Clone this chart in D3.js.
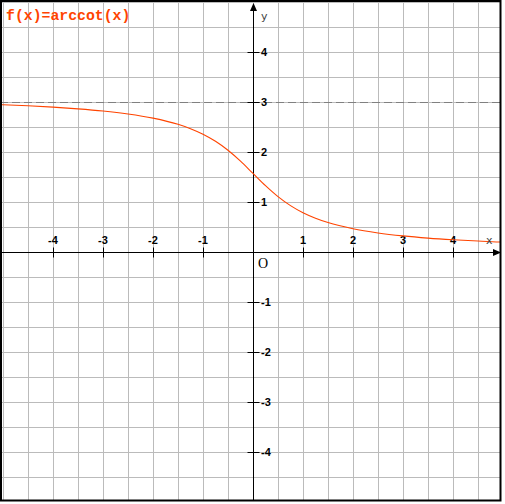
<!DOCTYPE html>
<html><head><meta charset="utf-8">
<script src="https://cdn.jsdelivr.net/npm/d3@7"></script>
<style>html,body{margin:0;padding:0;background:#fff;}svg{display:block;}</style>
</head><body>
<script>
const title = "f(x)=arccot(x)";
const xTicks = [-4,-3,-2,-1,1,2,3,4];
const yTicks = [-4,-3,-2,-1,1,2,3,4];
const asymptote = [3];
const xs = [-5.1,-5,-4.5,-4,-3.5,-3,-2.5,-2,-1.5,-1.25,-1,-0.75,-0.5,-0.25,0,0.25,0.5,0.75,1,1.25,1.5,2,2.5,3,3.5,4,4.5,5,5.1];
const ys = [2.947,2.944,2.924,2.897,2.863,2.820,2.761,2.678,2.554,2.467,2.356,2.214,2.034,1.816,1.571,1.326,1.107,0.927,0.785,0.675,0.588,0.464,0.381,0.322,0.278,0.245,0.219,0.197,0.194];

const W=505,H=504;
const svg=d3.select("body").append("svg").attr("width",W).attr("height",H);
const x=d3.scaleLinear().domain([-5,5]).range([3,503]);
const y=d3.scaleLinear().domain([-5,5]).range([502,2]);

svg.append("clipPath").attr("id","clip").append("rect").attr("x",1).attr("y",1).attr("width",499).attr("height",499);
const g=svg.append("g").attr("clip-path","url(#clip)");

const gridVals=d3.range(-10,11).map(d=>d/2);
g.selectAll("line.gx").data(gridVals).join("line")
 .attr("x1",d=>Math.round(x(d))+0.5).attr("x2",d=>Math.round(x(d))+0.5).attr("y1",0).attr("y2",H)
 .attr("stroke","#bbbbbb").attr("stroke-width",1);
g.selectAll("line.gy").data(gridVals).join("line")
 .attr("y1",d=>Math.round(y(d))+0.5).attr("y2",d=>Math.round(y(d))+0.5).attr("x1",0).attr("x2",W)
 .attr("stroke","#bbbbbb").attr("stroke-width",1);

g.selectAll("line.asy").data(asymptote).join("line")
 .attr("x1",0).attr("x2",W).attr("y1",d=>Math.round(y(d))+0.5).attr("y2",d=>Math.round(y(d))+0.5)
 .attr("stroke","#808080").attr("stroke-width",1).attr("stroke-dasharray","8,4");

const ax=Math.round(x(0))+0.5, ay=Math.round(y(0))+0.5;
g.append("line").attr("x1",0).attr("x2",496).attr("y1",ay).attr("y2",ay).attr("stroke","#000");
g.append("line").attr("x1",ax).attr("x2",ax).attr("y1",10).attr("y2",H).attr("stroke","#000");
g.append("path").attr("d",`M501,${ay} L493,${ay-3.5} L493,${ay+3.5} Z`).attr("fill","#000");
g.append("path").attr("d",`M${ax},3 L${ax-3.5},11 L${ax+3.5},11 Z`).attr("fill","#000");

g.selectAll("line.tx").data(xTicks).join("line")
 .attr("x1",d=>Math.round(x(d))+0.5).attr("x2",d=>Math.round(x(d))+0.5).attr("y1",ay-5).attr("y2",ay+5).attr("stroke","#000");
g.selectAll("line.ty").data(yTicks).join("line")
 .attr("y1",d=>Math.round(y(d))+0.5).attr("y2",d=>Math.round(y(d))+0.5).attr("x1",ax-6).attr("x2",ax+6).attr("stroke","#000");

const ff="Liberation Sans, Arial, sans-serif";
g.selectAll("text.tx").data(xTicks).join("text")
 .attr("x",d=>x(d)).attr("y",244).attr("text-anchor","middle")
 .attr("font-family",ff).attr("font-size","11px").attr("font-weight","bold")
 .text(d=>d<0?"-"+(-d):d);
g.selectAll("text.ty").data(yTicks).join("text")
 .attr("x",261).attr("y",d=>y(d)+4).attr("text-anchor","start")
 .attr("font-family",ff).attr("font-size","11px").attr("font-weight","bold")
 .text(d=>d<0?"-"+(-d):d);

const pts=xs.map((v,i)=>[v,ys[i]]);
g.append("path").datum(pts)
 .attr("d",d3.line().x(d=>x(d[0])).y(d=>y(d[1])).curve(d3.curveMonotoneX))
 .attr("fill","none").attr("stroke","#ff4400").attr("stroke-width",1.1);

g.append("text").attr("x",258).attr("y",268).attr("font-family","Liberation Serif, Times New Roman, serif").attr("font-size","14px").text("O");
g.append("text").attr("x",261).attr("y",20).attr("font-family","DejaVu Sans, sans-serif").attr("font-size","11px").attr("fill","#444").text("y");
g.append("text").attr("x",486).attr("y",244).attr("font-family","DejaVu Sans, sans-serif").attr("font-size","11px").attr("fill","#444").text("x");
g.append("text").attr("x",6).attr("y",20).attr("font-family","Liberation Mono, Courier New, monospace").attr("font-size","14.8px").attr("font-weight","bold").attr("fill","#ff4400").text(title);

svg.append("rect").attr("x",1).attr("y",1).attr("width",499.5).attr("height",499.5).attr("fill","none").attr("stroke","#000").attr("stroke-width",2);
</script>
</body></html>
